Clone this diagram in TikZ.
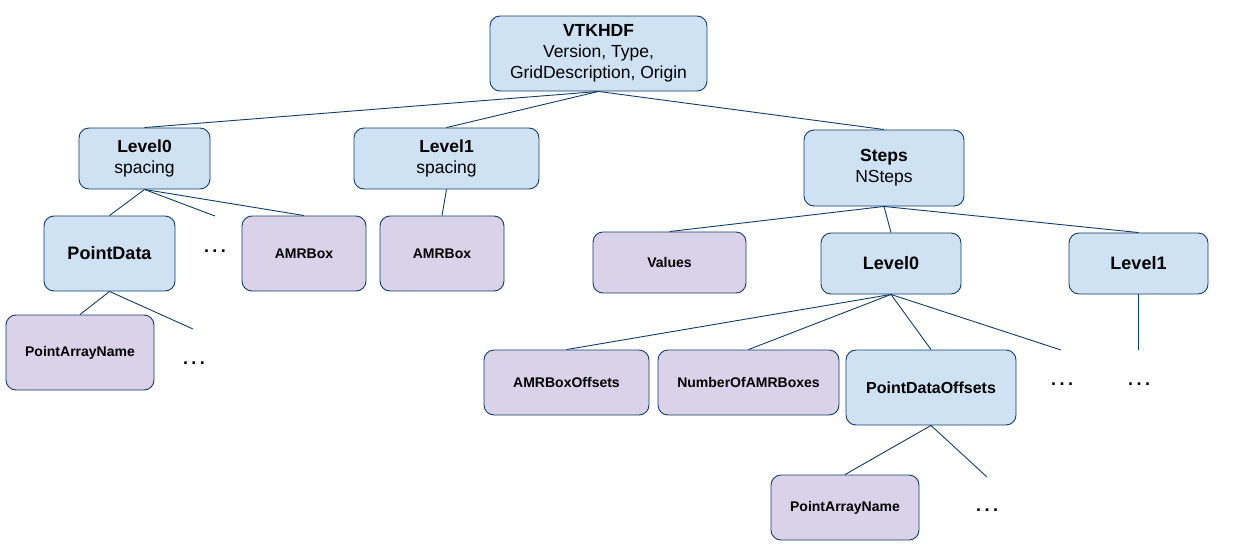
\documentclass[tikz,border=0pt]{standalone}
\usepackage{fontspec}
\setmainfont{Liberation Sans}
\definecolor{bluefill}{HTML}{CFE2F3}
\definecolor{purfill}{HTML}{D9D2E9}
\definecolor{edge}{HTML}{0F3D68}
\newcommand{\mydots}{.\kern3.5pt.\kern3.5pt.}
\begin{document}
\begin{tikzpicture}[x=1pt,y=-1pt,
  box/.style={draw=edge, line width=0.9pt, rounded corners=10pt, rectangle, inner sep=0pt, align=center},
  bbox/.style={box, fill=bluefill, font=\fontsize{17.5}{21}\selectfont},
  pbox/.style={box, fill=purfill, font=\fontsize{14}{17}\selectfont\bfseries},
  dots/.style={font=\fontsize{18}{20}\selectfont\bfseries, inner sep=0pt},
  link/.style={draw=edge, line width=0.9pt}]
\useasboundingbox (0,0) rectangle (1243,555);
\fill[white] (0,0) rectangle (1243,555);
% nodes
\node[bbox, minimum width=217pt, minimum height=75pt] (root) at (598.5,53.5) {\textbf{VTKHDF}\\Version, Type,\\GridDescription, Origin};
\node[bbox, minimum width=131pt, minimum height=61pt] (l0) at (144.5,158.5) {\textbf{Level0}\\spacing};
\node[bbox, minimum width=185pt, minimum height=61pt] (l1) at (446.5,158.5) {\textbf{Level1}\\spacing};
\node[bbox, minimum width=160pt, minimum height=76pt] (steps) at (884,168) {\textbf{Steps}\\NSteps};
\node[bbox, minimum width=131pt, minimum height=75pt, font=\fontsize{18}{21}\selectfont\bfseries] (pd) at (109.5,253.5) {PointData};
\node[dots] (d1) at (215,251) {\mydots};
\coordinate (d1t) at (215,216);
\node[pbox, minimum width=124pt, minimum height=75pt] (amr1) at (304,253.5) {AMRBox};
\node[pbox, minimum width=124pt, minimum height=75pt] (amr2) at (442,253.5) {AMRBox};
\node[pbox, minimum width=153pt, minimum height=61pt] (vals) at (669.5,262.5) {Values};
\node[bbox, minimum width=140pt, minimum height=61pt, font=\fontsize{18}{21}\selectfont\bfseries] (sl0) at (891,263.5) {Level0};
\node[bbox, minimum width=139pt, minimum height=61pt, font=\fontsize{18}{21}\selectfont\bfseries] (sl1) at (1138.5,263.5) {Level1};
\node[pbox, minimum width=148pt, minimum height=75pt] (pan1) at (80,352.5) {PointArrayName};
\node[dots] (d2) at (194,363) {\mydots};
\coordinate (d2t) at (193,329);
\node[pbox, minimum width=165pt, minimum height=65pt] (abo) at (566.5,382.5) {AMRBoxOffsets};
\node[pbox, minimum width=181pt, minimum height=65pt] (nab) at (748.5,382.5) {NumberOfAMRBoxes};
\node[bbox, minimum width=170pt, minimum height=75pt, font=\fontsize{16}{19}\selectfont\bfseries] (pdo) at (931,387.5) {PointDataOffsets};
\node[dots] (d3) at (1062,384) {\mydots};
\coordinate (d3t) at (1061,350);
\node[dots] (d4) at (1139,384) {\mydots};
\coordinate (d4t) at (1138.5,350);
\node[pbox, minimum width=148pt, minimum height=65pt] (pan2) at (845,507.5) {PointArrayName};
\node[dots] (d5) at (987,510) {\mydots};
\coordinate (d5t) at (987,477);
% connectors
\draw[link] (root.south) -- (l0.north);
\draw[link] (root.south) -- (l1.north);
\draw[link] (root.south) -- (steps.north);
\draw[link] (l0.south) -- (pd.north);
\draw[link] (l0.south) -- (d1t);
\draw[link] (l0.south) -- (amr1.north);
\draw[link] (l1.south) -- (amr2.north);
\draw[link] (pd.south) -- (pan1.north);
\draw[link] (pd.south) -- (d2t);
\draw[link] (steps.south) -- (vals.north);
\draw[link] (steps.south) -- (sl0.north);
\draw[link] (steps.south) -- (sl1.north);
\draw[link] (sl0.south) -- (abo.north);
\draw[link] (sl0.south) -- (nab.north);
\draw[link] (sl0.south) -- (pdo.north);
\draw[link] (sl0.south) -- (d3t);
\draw[link] (sl1.south) -- (d4t);
\draw[link] (pdo.south) -- (pan2.north);
\draw[link] (pdo.south) -- (d5t);
\end{tikzpicture}
\end{document}
